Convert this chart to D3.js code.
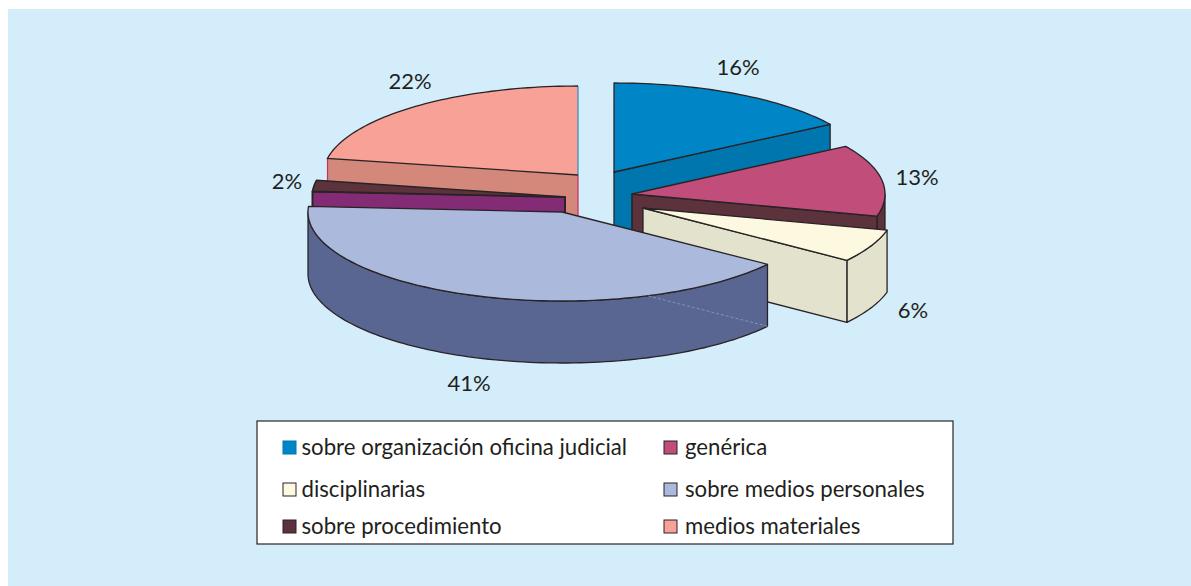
<!DOCTYPE html>
<html lang="es">
<head>
<meta charset="utf-8">
<script src="https://cdn.jsdelivr.net/npm/d3@7"></script>
<style>
  html, body { margin: 0; padding: 0; background: #fff; }
  svg { display: block; }
  text { font-family: Lato, "Open Sans", sans-serif; fill: #231f20; }
</style>
</head>
<body>
<script>
// Data
const categories = ['sobre organización oficina judicial', 'genérica', 'disciplinarias',
                    'sobre medios personales', 'sobre procedimiento', 'medios materiales']
const values = [16, 13, 6, 41, 2, 22]
const percentLabels = ['16%', '13%', '6%', '41%', '2%', '22%']

// Colours, top face and wall of each slice
const topColors = ['#0085c7', '#c14d7a', '#fdf8e0', '#abb9dd', '#5c333c', '#f8a196']
const sideColors = ['#0076ae', '#5c333c', '#e3e2cc', '#596692', '#842b75', '#d4887c']

// SVG window
const w = 1191
const h = 586
const ry = 89, depth = 62
const ink = '#2a2326'

// Exploded slices: where each apex ends up, its horizontal radius, and where its label sits
const apex = [[614, 172], [632, 194], [643, 208], [562, 212], [565, 197], [578, 175]]
const radiusX = [256, 253, 252, 254, 253, 255]
const labelPos = [[738, 75], [917, 185], [913, 318], [469, 391], [287, 189], [410, 89]]

const color = d3.scaleOrdinal().domain(categories).range(topColors)
const side = d3.scaleOrdinal().domain(categories).range(sideColors)

const svg = d3.select('body').append('svg').attr('width', w).attr('height', h)

svg.append('rect').attr('x', 8).attr('y', 9).attr('width', w - 8).attr('height', h - 9).attr('fill', '#d4edfb')

// Angles come from d3.pie, clockwise from 12 o'clock
const slices = d3.pie().sort(null).value(d => d.value)(
  categories.map((name, i) => ({ name, value: values[i], i })))

// Project an angle onto the tilted pie
const at = (i, a, dy = 0) => [apex[i][0] + radiusX[i] * Math.sin(a), apex[i][1] - ry * Math.cos(a) + dy]
const line = d3.line()

function rim(i, a0, a1, dy = 0) {
  const n = Math.max(2, Math.ceil(Math.abs(a1 - a0) * 40))
  return d3.range(n + 1).map(k => at(i, a0 + (a1 - a0) * k / n, dy))
}

function wall(g, i, a, stroke, sw) {
  const base = apex[i]
  const pts = [base, at(i, a), at(i, a, depth), [base[0], base[1] + depth]]
  g.append('path').attr('d', line(pts) + 'Z').attr('fill', side(categories[i]))
    .attr('stroke', stroke).attr('stroke-width', sw).attr('stroke-linejoin', 'round')
}

function curvedWall(g, i, a0, a1) {
  const pts = rim(i, a0, a1).concat(rim(i, a1, a0, depth))
  g.append('path').attr('d', line(pts) + 'Z').attr('fill', side(categories[i]))
    .attr('stroke', ink).attr('stroke-width', 1.3).attr('stroke-linejoin', 'round')
}

function topFace(g, i, d, stroke, sw) {
  const pts = [apex[i]].concat(rim(i, d.startAngle, d.endAngle))
  g.append('path').attr('d', line(pts) + 'Z').attr('fill', color(categories[i]))
    .attr('stroke', stroke).attr('stroke-width', sw).attr('stroke-linejoin', 'round')
}

const PI = Math.PI
const pie = svg.append('g')
// Back to front
const order = [0, 5, 1, 4, 2, 3]
order.forEach(i => {
  const d = slices[i]
  const g = pie.append('g').attr('class', 'slice')
  if (i === 0) {
    wall(g, i, d.endAngle, ink, 1.3)
    topFace(g, i, d, ink, 1.3)
  } else if (i === 1) {
    curvedWall(g, i, PI / 2, d.endAngle)
    wall(g, i, d.endAngle, ink, 1.6)
    topFace(g, i, d, ink, 1.3)
  } else if (i === 2) {
    curvedWall(g, i, d.startAngle, d.endAngle)
    wall(g, i, d.endAngle, ink, 1.3)
    topFace(g, i, d, ink, 1.3)
  } else if (i === 3) {
    curvedWall(g, i, d.startAngle, 1.5 * PI)
    topFace(g, i, d, ink, 1.3)
    // hidden edge showing through the wall
    const a = [apex[i][0], apex[i][1] + depth], b = at(i, d.startAngle, depth)
    const t = d3.interpolate(a, b)
    g.append('path').attr('d', line([t(0.42), b]))
      .attr('fill', 'none').attr('stroke', '#8f9cc4').attr('stroke-width', 0.8).attr('stroke-dasharray', '3 2')
  } else if (i === 4) {
    wall(g, i, d.startAngle, ink, 2)
    topFace(g, i, d, ink, 1.6)
  } else {
    // salmon slice has coloured vertical edges
    const p0 = at(i, d.startAngle), base = apex[i]
    wall(g, i, d.startAngle, 'none', 0)
    g.append('path').attr('d', line([p0, [p0[0], p0[1] + depth]])).attr('stroke', '#c0305f').attr('stroke-width', 1.2)
    g.append('path').attr('d', line([base, [base[0], base[1] + depth]])).attr('stroke', '#c0305f').attr('stroke-width', 1.2)
    topFace(g, i, d, 'none', 0)
    g.append('path').attr('d', line([at(i, d.endAngle), base])).attr('stroke', '#2a8cc0').attr('stroke-width', 1.2)
    g.append('path').attr('d', line(rim(i, d.endAngle, d.startAngle).concat([base])))
      .attr('fill', 'none').attr('stroke', ink).attr('stroke-width', 1.3)
  }
})

// Percent labels
svg.append('g').selectAll('text')
    .data(percentLabels)
  .enter()
    .append('text')
    .attr('x', (d, i) => labelPos[i][0])
    .attr('y', (d, i) => labelPos[i][1])
    .attr('text-anchor', 'middle')
    .attr('font-size', 22)
    .text(d => d)

// Legend
const legend = svg.append('g')
legend.append('rect').attr('x', 257).attr('y', 421).attr('width', 696).attr('height', 123)
  .attr('fill', '#fff').attr('stroke', ink).attr('stroke-width', 1.2)

const legendCol = d3.scaleOrdinal().domain([0, 1]).range([283, 664])
const legendRow = d3.scaleOrdinal().domain([0, 1, 2]).range([441, 483, 520])

const items = legend.selectAll('g.item')
    .data(categories)
  .enter()
    .append('g')
    .attr('class', 'item')
    .attr('transform', (d, i) => 'translate(' + legendCol(i % 2) + ',' + legendRow(Math.floor(i / 2)) + ')')

items.append('rect')
  .attr('width', 13).attr('height', 13)
  .attr('fill', d => color(d))
  .attr('stroke', (d, i) => i === 0 ? '#0076ae' : ink)
  .attr('stroke-width', 1)

items.append('text')
  .attr('x', (d, i) => i % 2 ? 21 : 18.5).attr('y', 14)
  .attr('font-size', 22.2)
  .text(d => d)
</script>
</body>
</html>
